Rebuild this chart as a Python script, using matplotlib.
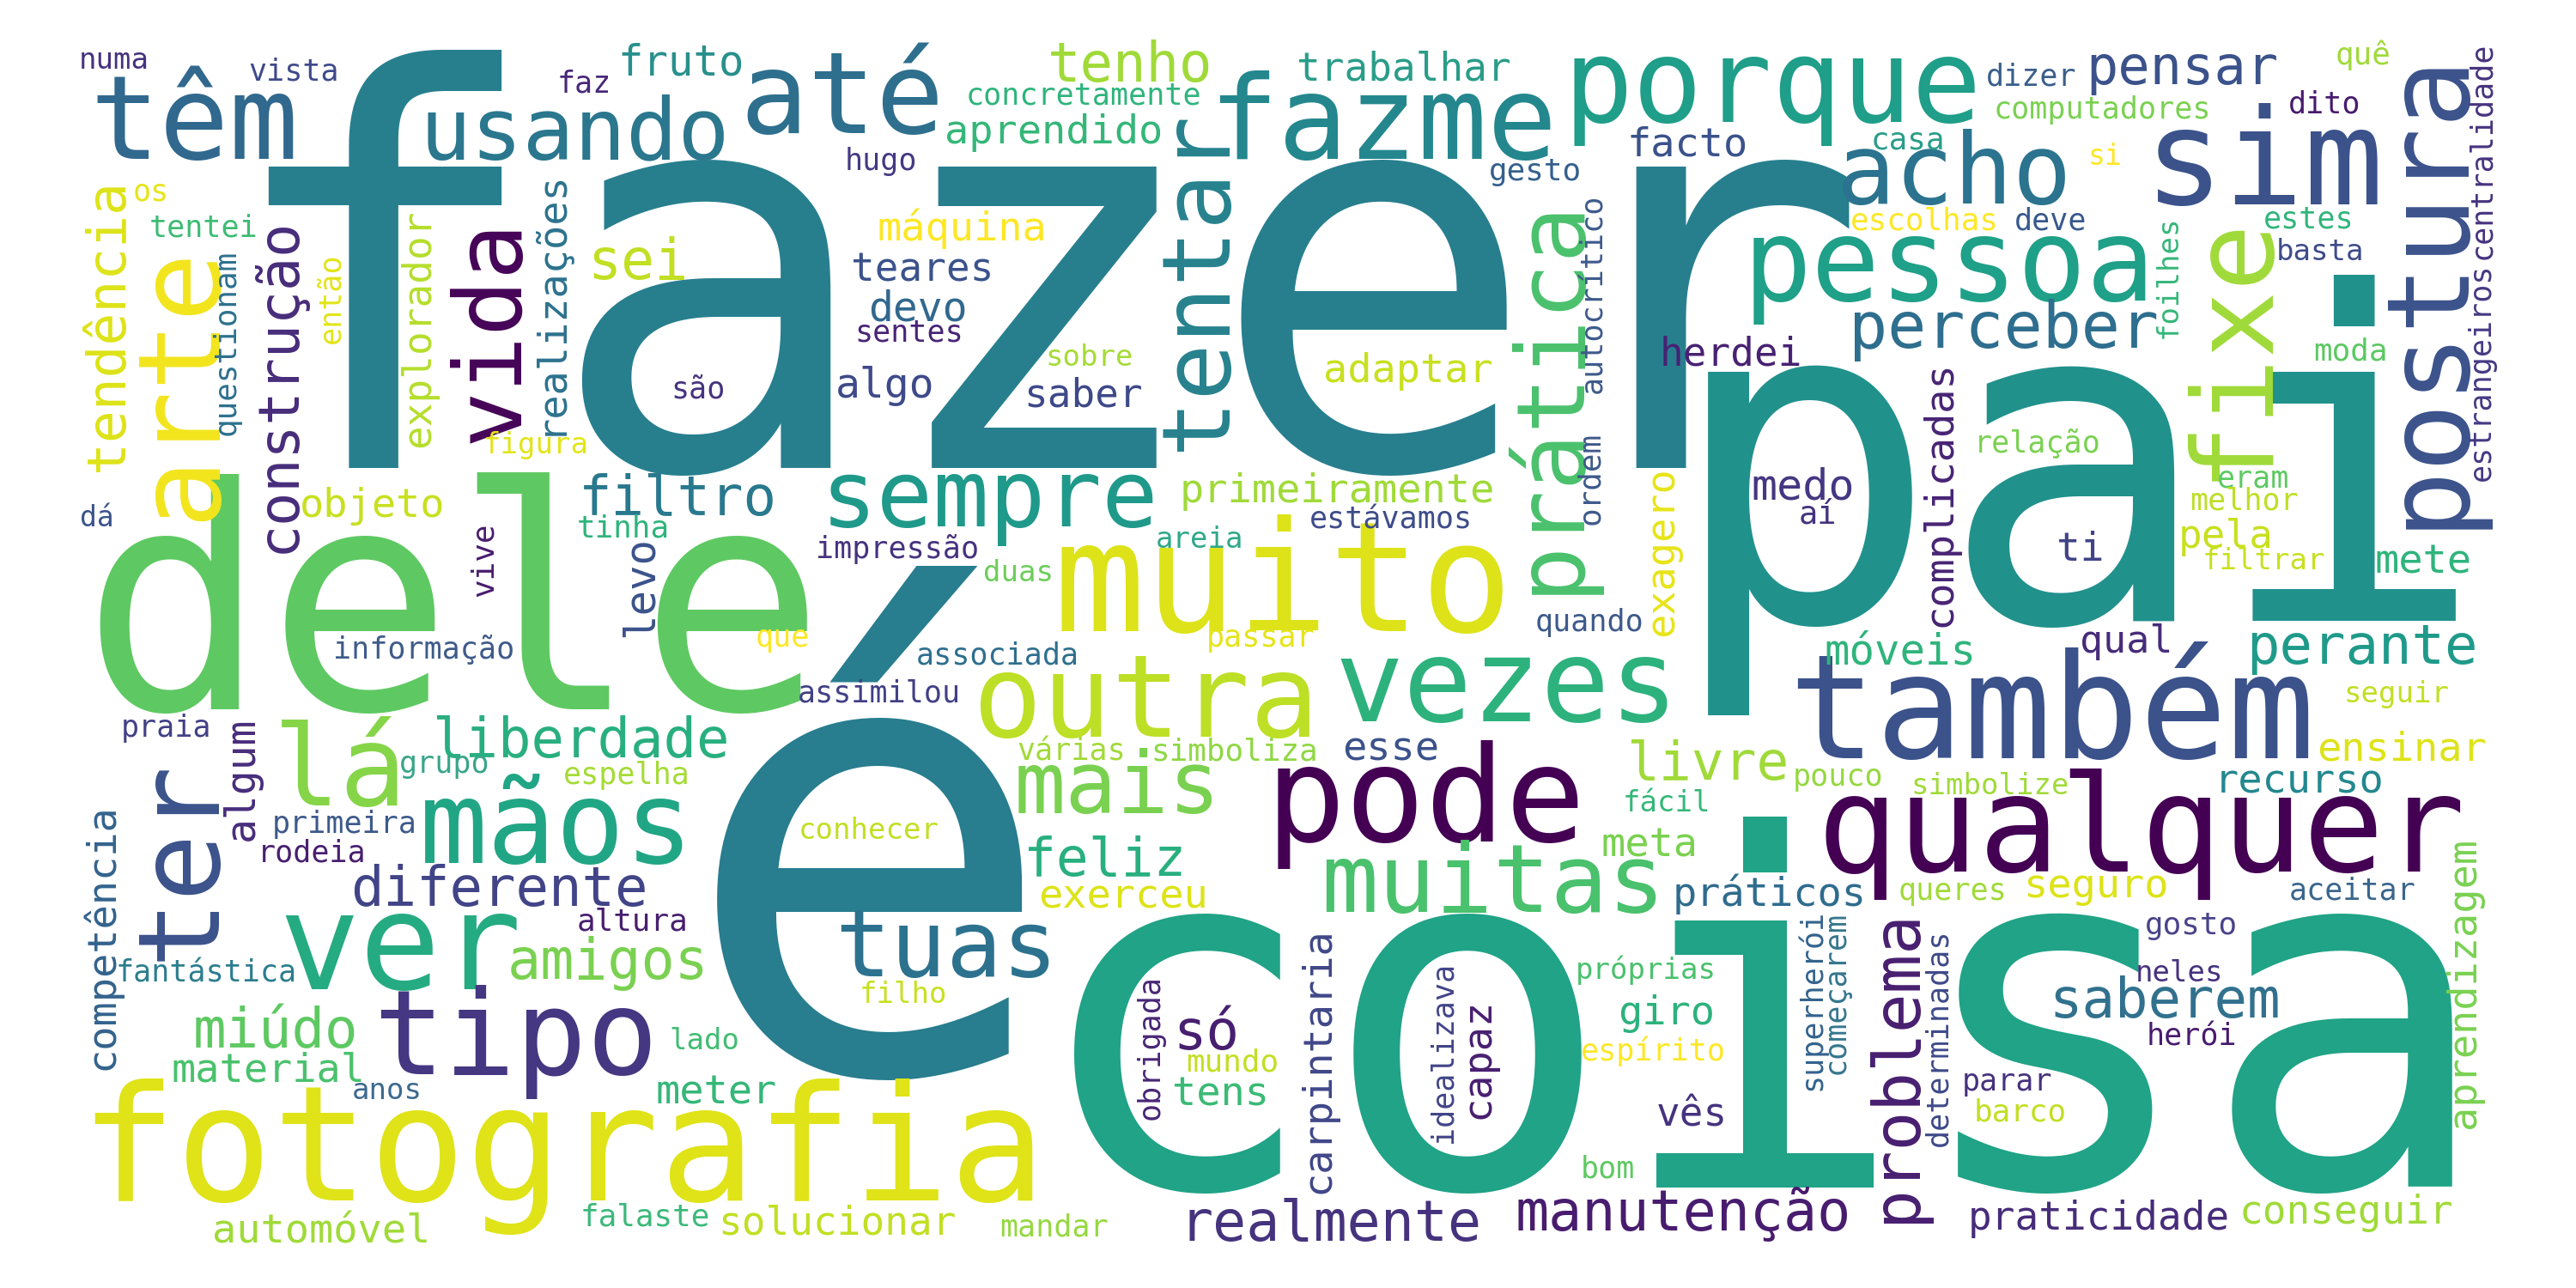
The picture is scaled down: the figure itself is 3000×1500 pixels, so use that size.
import matplotlib
matplotlib.use("Agg")
import matplotlib.pyplot as plt

# words and their weight (rendered letter size in px of the 3000x1500 canvas)
words = ["é", "fazer", "coisa", "pai", "dele", "fotografia", "muito", "também",
         "ver", "qualquer", "pode", "sim", "tipo", "têm", "porque", "fazme",
         "outra", "arte", "pessoa", "postura", "mãos", "vezes", "até", "lá",
         "ter", "fixe", "acho", "muitas", "prática", "tentar", "vida", "sempre",
         "tuas", "usando", "mais", "problema", "perceber",
         "tendência", "construção", "sei", "tenho", "pensar", "filtro",
         "liberdade", "só", "feliz", "livre", "perante", "diferente", "amigos",
         "miúdo", "realmente", "manutenção", "saberem",
         "explorador", "realizações", "fruto", "aprendido", "máquina", "teares",
         "devo", "saber", "algo", "trabalhar", "facto", "adaptar", "herdei",
         "complicadas", "objeto", "levo", "algum", "competência",
         "primeiramente", "exagero", "medo", "esse", "móveis", "meta", "pela",
         "ti", "mete", "qual", "ensinar", "recurso", "aprendizagem", "material",
         "automóvel", "exerceu", "meter", "tens", "solucionar", "práticos",
         "carpintaria", "capaz", "giro", "vês", "seguro", "praticidade",
         "conseguir",
         "numa", "vista", "faz", "os", "tentei", "questionam", "então",
         "concretamente", "hugo", "sentes", "sobre", "são", "gesto",
         "autocrítico", "casa", "escolhas", "dizer", "quê", "computadores",
         "dito", "si", "deve", "estes", "basta", "moda", "foilhes",
         "centralidade", "estrangeiros", "figura", "dá", "tinha", "vive",
         "informação", "praia", "grupo", "espelha", "primeira", "rodeia",
         "impressão", "areia", "duas", "que", "associada", "passar",
         "assimilou", "várias", "simboliza", "conhecer", "estávamos", "ordem",
         "quando", "aí", "pouco", "fácil", "simbolize", "relação", "eram",
         "melhor", "filtrar", "seguir", "altura", "fantástica", "anos",
         "falaste", "filho", "lado", "obrigada", "mundo", "mandar",
         "idealizava", "próprias", "espírito", "bom", "superherói",
         "começarem", "queres", "determinadas", "aceitar", "gosto", "neles",
         "herói", "parar", "barco"]

freq = [735, 640, 567, 530, 360, 187, 178, 170,
        157, 157, 155, 155, 138, 135, 135, 135,
        134, 134, 133, 133, 133, 133, 132, 130,
        131, 130, 114, 111, 110, 110, 109, 109,
        108, 100, 100, 76, 75,
        63, 65, 65, 64, 62, 64,
        64, 64, 63, 63, 64, 64, 65,
        64, 65, 65, 64,
        46, 47, 49, 47, 47, 46,
        48, 46, 48, 46, 47, 47, 46,
        47, 47, 49, 48, 47,
        47, 47, 50, 47, 49, 47, 46,
        46, 47, 45, 47, 47, 47, 47,
        47, 47, 47, 47, 46, 47,
        47, 47, 47, 46, 47, 46,
        46,
        34, 35, 35, 35, 35, 36, 35,
        35, 35, 35, 34, 35, 36,
        35, 36, 36, 35, 36, 35,
        35, 33, 35, 35, 34, 36, 34,
        35, 35, 34, 33, 36, 36,
        35, 35, 35, 35, 35, 35,
        35, 34, 34, 35, 35, 35,
        35, 35, 36, 34, 35, 36,
        35, 37, 35, 34, 34, 35, 35,
        35, 34, 34, 36, 35, 34,
        36, 34, 34, 35, 36, 35,
        35, 34, 35, 35, 35,
        35, 35, 35, 35, 36, 34,
        35, 35, 36]

# layout: anchor x, anchor y (baseline), vertical?, colour
place = {
    "é": (1012, 1248, 0, "#287d8e"), "fazer": (1215, 545, 0, "#277f8e"),
    "coisa": (2050, 1382, 0, "#20a386"), "pai": (2419, 723, 0, "#21918c"),
    "dele": (528, 826, 0, "#5ec962"), "fotografia": (655, 1398, 0, "#dfe318"),
    "muito": (1494, 735, 0, "#dde318"), "também": (2389, 883, 0, "#3b528b"),
    "ver": (466, 1152, 0, "#25ab82"), "qualquer": (2494, 1015, 0, "#440154"),
    "pode": (1660, 980, 0, "#440154"), "sim": (2637, 238, 0, "#3b528b"),
    "tipo": (600, 1251, 0, "#453781"), "têm": (226, 185, 0, "#31688e"),
    "porque": (2064, 142, 0, "#1f9e89"), "fazme": (1610, 185, 0, "#24878e"),
    "outra": (1335, 858, 0, "#bddf26"), "arte": (248, 446, 1, "#f2e51d"),
    "pessoa": (2270, 350, 0, "#1fa088"), "postura": (2864, 336, 1, "#3b528b"),
    "mãos": (648, 1005, 0, "#21a685"), "vezes": (1755, 840, 0, "#2db27d"),
    "até": (981, 155, 0, "#2e6f8e"), "lá": (396, 938, 0, "#86d549"),
    "ter": (248, 1001, 1, "#3b528b"), "fixe": (2636, 403, 1, "#a0da39"),
    "acho": (2276, 237, 0, "#2b738e"), "muitas": (1739, 1062, 0, "#4ac16d"),
    "prática": (1836, 460, 1, "#4ac16d"), "tentar": (1426, 326, 1, "#26828e"),
    "vida": (603, 385, 1, "#450457"), "sempre": (1153, 613, 0, "#1f998a"),
    "tuas": (1102, 1137, 0, "#2c728e"), "usando": (669, 185, 0, "#2a778e"),
    "mais": (1301, 947, 0, "#7ad151"), "problema": (2230, 1241, 1, "#481f70"),
    "perceber": (2333, 405, 0, "#2e6e8e"),
    "tendência": (143, 379, 1, "#dde318"), "construção": (343, 448, 1, "#472c7a"),
    "sei": (743, 325, 0, "#c2df23"), "tenho": (1316, 95, 0, "#a0da39"),
    "pensar": (2541, 98, 0, "#3b528b"), "filtro": (789, 600, 0, "#29798e"),
    "liberdade": (676, 882, 0, "#29af7f"), "só": (1405, 1222, 0, "#481f70"),
    "feliz": (1287, 1020, 0, "#29af7f"), "livre": (1989, 908, 0, "#a0da39"),
    "perante": (2751, 773, 0, "#1f9a8a"), "diferente": (581, 1055, 0, "#414487"),
    "amigos": (708, 1140, 0, "#7ad151"), "miúdo": (321, 1220, 0, "#5ec962"),
    "realmente": (1550, 1445, 0, "#46337e"), "manutenção": (1960, 1433, 0, "#481c6e"),
    "saberem": (2521, 1185, 0, "#31718e"),
    "explorador": (500, 382, 1, "#b5de2b"), "realizações": (652, 352, 1, "#2c728e"),
    "fruto": (793, 88, 0, "#28908c"), "aprendido": (1227, 167, 0, "#35b779"),
    "máquina": (1120, 280, 0, "#fde725"), "teares": (1074, 328, 0, "#3b528b"),
    "devo": (1069, 373, 0, "#31688e"), "saber": (1262, 473, 0, "#3e4989"),
    "algo": (1031, 463, 0, "#3e4a89"), "trabalhar": (1635, 93, 0, "#2a9d89"),
    "facto": (1965, 182, 0, "#3b528b"), "adaptar": (1640, 445, 0, "#c8e020"),
    "herdei": (2016, 425, 0, "#482173"), "complicadas": (2272, 575, 1, "#482475"),
    "objeto": (434, 602, 0, "#c8e020"), "levo": (760, 683, 1, "#3b528b"),
    "algum": (295, 907, 1, "#472d7b"), "competência": (131, 1091, 1, "#33638d"),
    "primeiramente": (1557, 585, 0, "#a0da39"), "exagero": (1948, 642, 1, "#e7e419"),
    "medo": (2100, 582, 0, "#453781"), "esse": (1620, 885, 0, "#3b528b"),
    "móveis": (2213, 773, 0, "#2fb47c"), "meta": (1921, 997, 0, "#7ad151"),
    "pela": (2592, 638, 0, "#c8e020"), "ti": (2423, 653, 0, "#414487"),
    "mete": (2822, 667, 0, "#2fb47c"), "qual": (2476, 760, 0, "#472c7a"),
    "ensinar": (2797, 885, 0, "#dde318"), "recurso": (2678, 923, 0, "#23888e"),
    "aprendizagem": (2882, 1145, 1, "#7ad151"), "material": (313, 1260, 0, "#4ac16d"),
    "automóvel": (374, 1447, 0, "#a0da39"), "exerceu": (1308, 1058, 0, "#dde318"),
    "meter": (834, 1285, 0, "#35b779"), "tens": (1422, 1287, 0, "#3aba76"),
    "solucionar": (975, 1438, 0, "#c2df23"), "práticos": (2061, 1055, 0, "#2f6c8e"),
    "carpintaria": (1548, 1235, 1, "#3f4788"), "capaz": (1733, 1232, 1, "#481f70"),
    "giro": (1941, 1193, 0, "#2db27d"), "vês": (1970, 1312, 0, "#46337e"),
    "seguro": (2441, 1045, 0, "#dde318"), "praticidade": (2444, 1432, 0, "#472c7a"),
    "conseguir": (2732, 1425, 0, "#a0da39"),
    "numa": (133, 80, 0, "#46327e"), "vista": (342, 93, 0, "#3e4a89"),
    "faz": (680, 107, 0, "#482878"), "os": (176, 233, 0, "#e7e419"),
    "tentei": (237, 276, 0, "#3dbc74"), "questionam": (274, 399, 1, "#2d718e"),
    "então": (395, 347, 1, "#e2e418"), "concretamente": (1262, 122, 0, "#2fb47c"),
    "hugo": (1026, 198, 0, "#443983"), "sentes": (1059, 398, 0, "#482576"),
    "sobre": (1269, 426, 0, "#a5db36"), "são": (813, 463, 0, "#46337f"),
    "gesto": (1788, 210, 0, "#35608d"), "autocrítico": (1865, 342, 1, "#3e5a8b"),
    "casa": (2222, 173, 0, "#2a9d89"), "escolhas": (2241, 268, 0, "#fde725"),
    "dizer": (2366, 100, 0, "#3a5e8c"), "quê": (2752, 75, 0, "#a0da39"),
    "computadores": (2448, 138, 0, "#7ad151"), "dito": (2707, 132, 0, "#481b6d"),
    "si": (2451, 192, 0, "#fde725"), "deve": (2388, 268, 0, "#38598c"),
    "estes": (2689, 265, 0, "#31b57b"), "basta": (2702, 303, 0, "#3e4c8a"),
    "moda": (2737, 420, 0, "#5cc863"), "foilhes": (2535, 322, 1, "#35b779"),
    "centralidade": (2900, 175, 1, "#46337e"), "estrangeiros": (2900, 433, 1, "#443983"),
    "figura": (624, 528, 0, "#e2e418"), "dá": (113, 613, 0, "#3b528b"),
    "tinha": (726, 625, 0, "#2fb47c"), "vive": (574, 652, 1, "#481c6e"),
    "informação": (494, 767, 0, "#3f5b8b"), "praia": (194, 858, 0, "#424086"),
    "grupo": (518, 900, 0, "#3aa58a"), "espelha": (730, 913, 0, "#a5db36"),
    "primeira": (401, 970, 0, "#3e5a8b"), "rodeia": (363, 1003, 0, "#481f70"),
    "impressão": (1045, 650, 0, "#46327e"), "areia": (1397, 638, 0, "#2fa88a"),
    "duas": (1186, 677, 0, "#6ccd5a"), "que": (911, 753, 0, "#fde725"),
    "associada": (1162, 773, 0, "#2e6f8e"), "passar": (1468, 753, 0, "#e5e419"),
    "assimilou": (1024, 818, 0, "#424086"), "várias": (1248, 885, 0, "#a2da37"),
    "simboliza": (1438, 885, 0, "#8fd744"), "conhecer": (1012, 977, 0, "#c2df23"),
    "estávamos": (1620, 615, 0, "#3e4c8a"), "ordem": (1862, 557, 1, "#3e5a8b"),
    "quando": (1851, 735, 0, "#3e5a8b"), "aí": (2117, 610, 0, "#46337e"),
    "pouco": (2141, 915, 0, "#95d840"), "fácil": (1941, 945, 0, "#35b779"),
    "simbolize": (2318, 925, 0, "#a0da39"), "relação": (2373, 527, 0, "#7ad151"),
    "eram": (2624, 568, 0, "#5ec962"), "melhor": (2613, 593, 0, "#bddf26"),
    "filtrar": (2637, 663, 0, "#c8e020"), "seguir": (2791, 818, 0, "#c2df23"),
    "altura": (737, 1083, 0, "#481f70"), "fantástica": (240, 1143, 0, "#2c7d8e"),
    "anos": (451, 1280, 0, "#3d6a8e"), "falaste": (751, 1428, 0, "#3cb97a"),
    "filho": (1052, 1168, 0, "#c8e020"), "lado": (820, 1222, 0, "#40bd72"),
    "obrigada": (1350, 1220, 1, "#482576"), "mundo": (1435, 1247, 0, "#c2df23"),
    "mandar": (1228, 1440, 0, "#95d840"), "idealizava": (1690, 1225, 1, "#414487"),
    "próprias": (1917, 1140, 0, "#4ac16d"), "espírito": (1925, 1235, 0, "#fde725"),
    "bom": (1872, 1372, 0, "#5ec962"), "superherói": (2120, 1164, 1, "#33638d"),
    "começarem": (2148, 1156, 1, "#35768e"), "queres": (2274, 1048, 0, "#a0da39"),
    "determinadas": (2267, 1208, 1, "#3e4a89"), "aceitar": (2740, 1048, 0, "#39668d"),
    "gosto": (2552, 1088, 0, "#4a4489"), "neles": (2538, 1143, 0, "#46327e"),
    "herói": (2552, 1218, 0, "#481c6e"), "parar": (2338, 1270, 0, "#46327e"),
    "barco": (2353, 1305, 0, "#c2df23"),
}

DPI = 100
fig = plt.figure(figsize=(30, 15), dpi=DPI)
ax = fig.add_axes([0, 0, 1, 1])
ax.set_xlim(0, 3000)
ax.set_ylim(1500, 0)
ax.axis("off")

for w, f in zip(words, freq):
    x, y, vert, col = place[w]
    ax.text(x, y, w, fontsize=f * 72 / DPI, family="DejaVu Sans Mono",
            color=col, ha="center", va="baseline",
            rotation=90 if vert else 0, rotation_mode="anchor")

fig.savefig("out.png", dpi=DPI, facecolor="white")
